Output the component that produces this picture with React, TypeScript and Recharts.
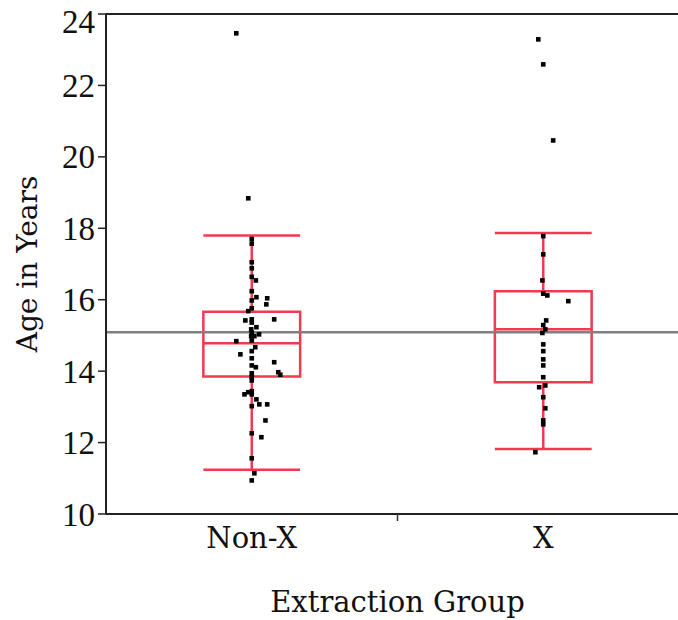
import { ComposedChart, Scatter, XAxis, YAxis, ReferenceArea, ReferenceLine } from 'recharts'

const groups = ['Non-X', 'X']

// ages, with the horizontal jitter of each point (in group units)
const nonXAges = [
  23.46, 18.84, 17.7, 17.57, 17.05, 16.88, 16.64, 16.54, 16.24, 16.07, 16.04, 15.98, 15.87, 15.76,
  15.68, 15.45, 15.42, 15.45, 15.36, 15.23, 15.17, 15.08, 15.03, 14.98, 14.98, 14.86, 14.84, 14.67,
  14.56, 14.47, 14.36, 14.25, 14.16, 14.11, 13.97, 13.9, 13.94, 13.84, 13.74, 13.44, 13.41, 13.35,
  13.35, 13.21, 13.07, 13.07, 13.02, 12.62, 12.26, 12.15, 11.56, 11.14, 10.94,
]
const nonXJitter = [
  -0.053, -0.012, 0, 0, 0, 0, 0, 0.014, 0, 0.016, 0.053, 0, 0.05, 0,
  -0.012, 0, -0.022, 0.077, 0, 0.016, -0.002, 0, 0.025, -0.002, 0.009, 0, -0.053, 0.012,
  0, -0.039, 0, 0.077, 0, 0.014, 0.091, 0.098, 0, 0, 0, 0, -0.012, -0.025,
  0, 0.016, 0.026, 0.053, 0, 0.047, 0, 0.033, 0, 0.009, 0,
]
const xAges = [
  23.29, 22.59, 20.46, 17.78, 17.27, 16.54, 16.17, 16.12, 15.96, 15.42, 15.29, 15.17, 15.07,
  14.75, 14.56, 14.33, 14.16, 13.83, 13.55, 13.6, 13.27, 12.96, 12.62, 12.51, 11.73,
]
const xJitter = [
  -0.017, 0, 0.034, 0, 0, -0.003, 0, 0.014, 0.086, 0.01, 0, 0.007, -0.003,
  0, 0, 0, 0, 0, -0.014, 0.007, 0, 0.007, 0, 0, -0.027,
]

// box plot summary per group
const q1 = [13.85, 13.69]
const median = [14.78, 15.17]
const q3 = [15.66, 16.24]
const whiskerLow = [11.24, 11.82]
const whiskerHigh = [17.8, 17.87]
const grandMean = 15.09

const yTicks = [10, 12, 14, 16, 18, 20, 22, 24]

const nonXPoints = nonXAges.map((age, i) => ({ pos: 1 + nonXJitter[i], age }))
const xPoints = xAges.map((age, i) => ({ pos: 2 + xJitter[i], age }))

const RED = '#ef3a50'
const HALF = 0.166
const serif = '"DejaVu Serif", serif'

function Square(props: any) {
  const { cx, cy } = props
  if (cx == null || cy == null) return null
  return <rect x={cx - 2.3} y={cy - 2.3} width={4.6} height={4.6} fill="#000" />
}

function YTick(props: any) {
  const { x, y, payload } = props
  const shift = payload.value === 24 ? 7 : 0
  return (
    <text
      x={x}
      y={y + shift}
      dy="0.35em"
      textAnchor="end"
      fill="#111"
      fontSize={33}
      fontFamily='"Liberation Serif", serif'
    >
      {payload.value}
    </text>
  )
}

function XTick(props: any) {
  const { x, y, payload } = props
  if (payload.value === 1.5) {
    return <line x1={x} x2={x} y1={y} y2={y + 7} stroke="#333" strokeWidth={1.5} />
  }
  return (
    <text x={x} y={y + 34} textAnchor="middle" fill="#111" fontSize={29} fontFamily={serif}>
      {groups[payload.value - 1]}
    </text>
  )
}

export default function App() {
  return (
    <div
      style={{
        position: 'absolute',
        left: 0,
        top: 0,
        width: 678,
        height: 620,
        overflow: 'hidden',
        background: '#fff',
      }}
    >
      <ComposedChart width={700} height={620} margin={{ top: 14, right: 11, bottom: 0, left: 0 }}>
        <XAxis
          type="number"
          dataKey="pos"
          domain={[0.5, 2.5]}
          ticks={[1, 1.5, 2]}
          allowDataOverflow
          height={106}
          tickLine={false}
          tickSize={0}
          tickMargin={0}
          tick={XTick}
          axisLine={{ stroke: '#222', strokeWidth: 2 }}
          label={{
            value: 'Extraction Group',
            position: 'insideBottom',
            offset: 8,
            fill: '#111',
            fontSize: 29,
            fontFamily: serif,
          }}
        />
        <YAxis
          type="number"
          dataKey="age"
          domain={[10, 24]}
          ticks={yTicks}
          allowDataOverflow
          width={106}
          tickSize={8}
          tickMargin={3}
          tickLine={{ stroke: '#222', strokeWidth: 1.5 }}
          axisLine={{ stroke: '#222', strokeWidth: 2 }}
          tick={YTick}
          label={{
            value: 'Age in Years',
            angle: -90,
            position: 'insideLeft',
            offset: 27,
            fill: '#111',
            fontSize: 28,
            fontFamily: serif,
            style: { textAnchor: 'middle' },
          }}
        />
        <ReferenceLine y={24} stroke="#222" strokeWidth={2} />
        <ReferenceLine y={grandMean} stroke="#808080" strokeWidth={2.5} />
        {groups.map((g, i) => {
          const c = i + 1
          return [
            <ReferenceLine
              key={g + 'wl'}
              segment={[{ x: c, y: whiskerLow[i] }, { x: c, y: q1[i] }]}
              stroke={RED}
              strokeWidth={2.5}
            />,
            <ReferenceLine
              key={g + 'wh'}
              segment={[{ x: c, y: q3[i] }, { x: c, y: whiskerHigh[i] }]}
              stroke={RED}
              strokeWidth={2.5}
            />,
            <ReferenceLine
              key={g + 'cl'}
              segment={[{ x: c - HALF, y: whiskerLow[i] }, { x: c + HALF, y: whiskerLow[i] }]}
              stroke={RED}
              strokeWidth={2.5}
            />,
            <ReferenceLine
              key={g + 'ch'}
              segment={[{ x: c - HALF, y: whiskerHigh[i] }, { x: c + HALF, y: whiskerHigh[i] }]}
              stroke={RED}
              strokeWidth={2.5}
            />,
            <ReferenceArea
              key={g + 'box'}
              x1={c - HALF}
              x2={c + HALF}
              y1={q1[i]}
              y2={q3[i]}
              fill="none"
              fillOpacity={0}
              stroke={RED}
              strokeWidth={2.5}
              strokeOpacity={1}
            />,
            <ReferenceLine
              key={g + 'med'}
              segment={[{ x: c - HALF, y: median[i] }, { x: c + HALF, y: median[i] }]}
              stroke={RED}
              strokeWidth={2.5}
            />,
          ]
        })}
        <Scatter data={nonXPoints} shape={Square} isAnimationActive={false} />
        <Scatter data={xPoints} shape={Square} isAnimationActive={false} />
      </ComposedChart>
    </div>
  )
}
